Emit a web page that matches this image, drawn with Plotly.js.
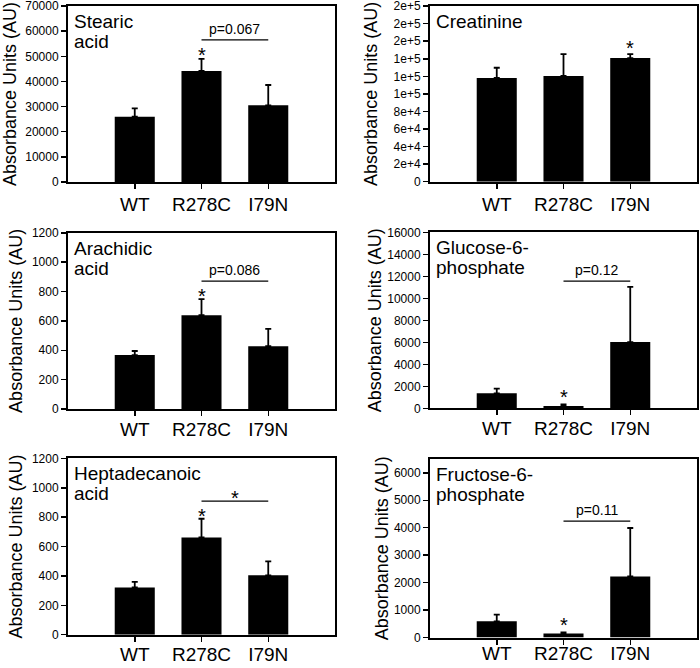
<!DOCTYPE html>
<html>
<head>
<meta charset="utf-8">
<script src="https://cdn.plot.ly/plotly-3.0.1.min.js"></script>
<style>
  html, body { margin: 0; padding: 0; background: #fff; }
  #chart { width: 700px; height: 668px; }
</style>
</head>
<body>
<div id="chart"></div>
<script>
// ---------- data ----------
const categories = ['WT', 'R278C', 'I79N'];

const panelNames = [['Stearic', 'acid'], ['Creatinine'], ['Arachidic', 'acid'],
                    ['Glucose-6-', 'phosphate'], ['Heptadecanoic', 'acid'], ['Fructose-6-', 'phosphate']];

const stearicMean = [26000, 44200, 30500];
const stearicErr = [3300, 4800, 8100];
const creatinineMean = [118100, 120400, 140800];
const creatinineErr = [11700, 24900, 4500];
const arachidicMean = [367, 639, 428];
const arachidicErr = [28, 109, 118];
const glucose6pMean = [1364, 212, 6020];
const glucose6pErr = [418, 152, 5020];
const heptadecanoicMean = [322, 662, 404];
const heptadecanoicErr = [38, 127, 95];
const fructose6pMean = [590, 146, 2226];
const fructose6pErr = [240, 40, 1764];

const yMax = [70000, 200000, 1200, 16000, 1200, 6500];
const yStep = [10000, 20000, 200, 2000, 200, 1000];
const creatinineTickText = ['0', '2e+4', '4e+4', '6e+4', '8e+4', '1e+5', '1e+5', '1e+5', '2e+5', '2e+5', '2e+5'];

// significance marks
const starCat = ['R278C', 'I79N', 'R278C', 'R278C', 'R278C', 'R278C'];
const starY = [52500, 158500, 805, 1510, 841, 637];
const bracketY = [56550, null, 871, 11573, 909, 4242];
const bracketText = ['p=0.067', '', 'p=0.086', 'p=0.12', '*', 'p=0.11'];

// ---------- layout helpers ----------
const W = 700, H = 668;
const colX = [[68, 335], [430, 697]];
const rowY = [[6, 182], [6, 181.7], [232.7, 409], [232.3, 408.3], [458.3, 634.7], [459, 637.5]];
const titleStandoff = [5, 11, 5, 1, 5, 1];
const xLabelStandoff = [-1, -1, -3, -3, -4, -7];

const means = [stearicMean, creatinineMean, arachidicMean, glucose6pMean, heptadecanoicMean, fructose6pMean];
const errs = [stearicErr, creatinineErr, arachidicErr, glucose6pErr, heptadecanoicErr, fructose6pErr];

const FONT = 'Liberation Sans, Arial, Helvetica, sans-serif';
const traces = [];
const layout = {
  width: W, height: H,
  margin: {l: 0, r: 0, t: 0, b: 0},
  paper_bgcolor: '#fff', plot_bgcolor: '#fff',
  showlegend: false,
  font: {family: FONT, color: '#000'},
  annotations: [], shapes: []
};

for (let i = 0; i < 6; i++) {
  const n = i + 1;
  const xa = 'x' + (n === 1 ? '' : n), ya = 'y' + (n === 1 ? '' : n);
  const xk = 'xaxis' + (n === 1 ? '' : n), yk = 'yaxis' + (n === 1 ? '' : n);
  const cx = colX[i % 2], ry = rowY[i];

  traces.push({
    type: 'bar', x: categories, y: means[i], xaxis: xa, yaxis: ya,
    width: 0.6, marker: {color: '#000', line: {width: 0}},
    error_y: {type: 'data', symmetric: false, array: errs[i], arrayminus: [0, 0, 0],
              color: '#000', thickness: 1.8, width: 3},
    hoverinfo: 'skip'
  });

  layout[xk] = {
    domain: [cx[0] / W, cx[1] / W], anchor: ya, type: 'category',
    range: [-1, 3], showline: true, mirror: true, linewidth: 2, linecolor: '#000',
    ticks: 'outside', ticklen: 5, tickwidth: 1.5, tickcolor: '#000',
    showgrid: false, zeroline: false, fixedrange: true, ticklabeloverflow: 'allow',
    tickfont: {family: FONT, size: 19, color: '#000'}, ticklabelstandoff: xLabelStandoff[i]
  };
  const yax = {
    domain: [1 - ry[1] / H, 1 - ry[0] / H], anchor: xa,
    range: [0, yMax[i] * 1.0005], showline: true, mirror: true, linewidth: 2, linecolor: '#000',
    ticks: 'outside', ticklen: 5, tickwidth: 1.5, tickcolor: '#000',
    showgrid: false, zeroline: false, fixedrange: true, ticklabeloverflow: 'allow',
    tickfont: {family: FONT, size: 12, color: '#000'},
    tick0: 0, dtick: yStep[i], tickformat: 'd',
    title: {text: 'Absorbance Units (AU)', font: {family: FONT, size: 18, color: '#000'},
            standoff: titleStandoff[i]}
  };
  if (i === 1) {
    yax.tickmode = 'array';
    yax.tickvals = creatinineTickText.map((t, k) => k * yStep[i]);
    yax.ticktext = creatinineTickText;
  }
  layout[yk] = yax;

  // panel labels
  panelNames[i].forEach((t, k) => {
    layout.annotations.push({
      xref: xa + ' domain', yref: ya + ' domain', x: 0, y: 1,
      xanchor: 'left', yanchor: 'top', xshift: 4, yshift: -3 - 20 * k,
      text: t, showarrow: false, font: {family: FONT, size: 19, color: '#000'}
    });
  });

  // star over bar
  layout.annotations.push({
    xref: xa, yref: ya, x: starCat[i], y: starY[i], xanchor: 'center', yanchor: 'middle',
    yshift: -5, text: '*', showarrow: false, font: {family: FONT, size: 20, color: '#000'}
  });

  // bracket
  if (bracketY[i] !== null) {
    layout.shapes.push({
      type: 'line', xref: xa, yref: ya, x0: 1, x1: 2, y0: bracketY[i], y1: bracketY[i],
      line: {color: '#000', width: 1.3}
    });
    const isStar = bracketText[i] === '*';
    layout.annotations.push({
      xref: xa, yref: ya, x: 1.5, y: bracketY[i], xanchor: 'center',
      yanchor: isStar ? 'middle' : 'bottom', yshift: isStar ? 3 : 1,
      text: bracketText[i], showarrow: false,
      font: {family: FONT, size: isStar ? 20 : 14, color: '#000'}
    });
  }
}

Plotly.newPlot('chart', traces, layout, {staticPlot: true, displayModeBar: false});
</script>
</body>
</html>
